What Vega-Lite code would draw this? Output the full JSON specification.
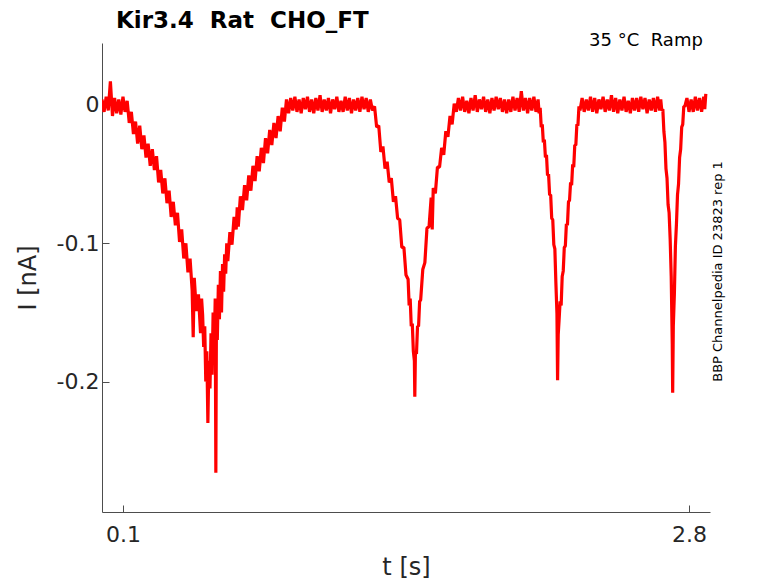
{
  "$schema": "https://vega.github.io/schema/vega-lite/v6.json",
  "width": 608,
  "height": 469,
  "autosize": "none",
  "padding": {"left": 102, "top": 43, "right": 68, "bottom": 71},
  "background": "white",
  "config": {"view": {"stroke": null}, "font": "DejaVu Sans"},
  "title": {
    "text": "Kir3.4 \u00a0Rat \u00a0CHO_FT",
    "anchor": "start",
    "frame": "group",
    "dx": 14,
    "fontSize": 23,
    "fontWeight": "bold",
    "color": "#000000",
    "baseline": "alphabetic",
    "offset": -19
  },
  "data": {"values": [
    {"t":0.00,"I":0.004},{"t":0.01,"I":-0.005},{"t":0.02,"I":0.006},{"t":0.03,"I":-0.004},{"t":0.04,"I":0.017},
    {"t":0.05,"I":-0.008},{"t":0.06,"I":0.005},{"t":0.07,"I":-0.006},{"t":0.08,"I":0.004},{"t":0.09,"I":-0.007},
    {"t":0.10,"I":0.006},{"t":0.11,"I":-0.005},{"t":0.12,"I":0.003},{"t":0.13,"I":-0.013},{"t":0.14,"I":-0.005},
    {"t":0.15,"I":-0.021},{"t":0.16,"I":-0.012},{"t":0.17,"I":-0.028},{"t":0.18,"I":-0.015},{"t":0.19,"I":-0.032},
    {"t":0.20,"I":-0.022},{"t":0.21,"I":-0.038},{"t":0.22,"I":-0.028},{"t":0.23,"I":-0.044},{"t":0.24,"I":-0.032},
    {"t":0.25,"I":-0.047},{"t":0.26,"I":-0.037},{"t":0.27,"I":-0.056},{"t":0.28,"I":-0.047},{"t":0.29,"I":-0.064},
    {"t":0.30,"I":-0.053},{"t":0.31,"I":-0.071},{"t":0.32,"I":-0.062},{"t":0.33,"I":-0.081},{"t":0.34,"I":-0.070},
    {"t":0.35,"I":-0.087},{"t":0.36,"I":-0.078},{"t":0.37,"I":-0.099},{"t":0.38,"I":-0.090},{"t":0.39,"I":-0.111},
    {"t":0.40,"I":-0.100},{"t":0.41,"I":-0.121},{"t":0.42,"I":-0.111},{"t":0.43,"I":-0.134},{"t":0.435,"I":-0.168},
    {"t":0.44,"I":-0.125},{"t":0.45,"I":-0.149},{"t":0.46,"I":-0.137},{"t":0.47,"I":-0.165},{"t":0.475,"I":-0.140},
    {"t":0.48,"I":-0.152},{"t":0.485,"I":-0.175},{"t":0.49,"I":-0.160},{"t":0.495,"I":-0.200},{"t":0.50,"I":-0.178},
    {"t":0.505,"I":-0.230},{"t":0.51,"I":-0.185},{"t":0.515,"I":-0.205},{"t":0.52,"I":-0.165},{"t":0.525,"I":-0.195},
    {"t":0.53,"I":-0.150},{"t":0.535,"I":-0.180},{"t":0.54,"I":-0.140},{"t":0.543,"I":-0.266},{"t":0.546,"I":-0.145},
    {"t":0.55,"I":-0.170},{"t":0.555,"I":-0.130},{"t":0.56,"I":-0.155},{"t":0.565,"I":-0.120},{"t":0.57,"I":-0.150},
    {"t":0.575,"I":-0.115},{"t":0.58,"I":-0.135},{"t":0.585,"I":-0.108},{"t":0.59,"I":-0.122},{"t":0.595,"I":-0.100},
    {"t":0.60,"I":-0.113},{"t":0.61,"I":-0.092},{"t":0.62,"I":-0.101},{"t":0.63,"I":-0.081},{"t":0.64,"I":-0.090},
    {"t":0.645,"I":-0.074},{"t":0.65,"I":-0.088},{"t":0.66,"I":-0.066},{"t":0.67,"I":-0.076},{"t":0.68,"I":-0.058},
    {"t":0.69,"I":-0.069},{"t":0.70,"I":-0.051},{"t":0.71,"I":-0.062},{"t":0.72,"I":-0.044},{"t":0.73,"I":-0.055},
    {"t":0.74,"I":-0.037},{"t":0.75,"I":-0.048},{"t":0.76,"I":-0.031},{"t":0.77,"I":-0.042},{"t":0.78,"I":-0.024},
    {"t":0.79,"I":-0.035},{"t":0.80,"I":-0.018},{"t":0.81,"I":-0.029},{"t":0.82,"I":-0.013},{"t":0.83,"I":-0.024},
    {"t":0.84,"I":-0.008},{"t":0.85,"I":-0.019},{"t":0.86,"I":-0.002},{"t":0.87,"I":-0.012},{"t":0.88,"I":0.004},
    {"t":0.89,"I":-0.006},{"t":0.90,"I":0.005},{"t":0.91,"I":-0.004},{"t":0.92,"I":0.006},{"t":0.93,"I":-0.005},
    {"t":0.94,"I":0.004},{"t":0.95,"I":-0.006},{"t":0.96,"I":0.005},{"t":0.97,"I":-0.003},{"t":0.98,"I":0.006},
    {"t":0.99,"I":-0.005},{"t":1.00,"I":0.004},{"t":1.01,"I":-0.006},{"t":1.02,"I":0.005},{"t":1.03,"I":-0.004},
    {"t":1.04,"I":0.007},{"t":1.05,"I":-0.005},{"t":1.06,"I":0.004},{"t":1.07,"I":-0.004},{"t":1.08,"I":0.005},
    {"t":1.09,"I":-0.006},{"t":1.10,"I":0.004},{"t":1.11,"I":-0.003},{"t":1.12,"I":0.006},{"t":1.13,"I":-0.005},
    {"t":1.14,"I":0.003},{"t":1.15,"I":-0.005},{"t":1.16,"I":0.006},{"t":1.17,"I":-0.004},{"t":1.18,"I":0.005},
    {"t":1.19,"I":-0.006},{"t":1.20,"I":0.004},{"t":1.21,"I":-0.004},{"t":1.22,"I":0.005},{"t":1.23,"I":-0.005},
    {"t":1.24,"I":0.006},{"t":1.25,"I":-0.003},{"t":1.26,"I":0.005},{"t":1.27,"I":-0.005},{"t":1.28,"I":0.004},
    {"t":1.29,"I":-0.004},{"t":1.30,"I":-0.001},{"t":1.31,"I":-0.016},{"t":1.32,"I":-0.015},{"t":1.33,"I":-0.034},
    {"t":1.34,"I":-0.030},{"t":1.35,"I":-0.046},{"t":1.36,"I":-0.041},{"t":1.37,"I":-0.056},{"t":1.38,"I":-0.053},
    {"t":1.39,"I":-0.070},{"t":1.40,"I":-0.066},{"t":1.41,"I":-0.082},{"t":1.42,"I":-0.083},{"t":1.43,"I":-0.103},
    {"t":1.44,"I":-0.103},{"t":1.45,"I":-0.123},{"t":1.46,"I":-0.126},{"t":1.465,"I":-0.145},{"t":1.47,"I":-0.140},
    {"t":1.475,"I":-0.160},{"t":1.48,"I":-0.158},{"t":1.485,"I":-0.178},{"t":1.49,"I":-0.185},{"t":1.492,"I":-0.211},
    {"t":1.495,"I":-0.178},{"t":1.50,"I":-0.180},{"t":1.505,"I":-0.160},{"t":1.51,"I":-0.160},{"t":1.515,"I":-0.142},
    {"t":1.52,"I":-0.141},{"t":1.53,"I":-0.119},{"t":1.54,"I":-0.114},{"t":1.55,"I":-0.089},{"t":1.56,"I":-0.088},
    {"t":1.57,"I":-0.067},{"t":1.575,"I":-0.090},{"t":1.58,"I":-0.060},{"t":1.59,"I":-0.064},{"t":1.60,"I":-0.045},
    {"t":1.61,"I":-0.045},{"t":1.62,"I":-0.031},{"t":1.63,"I":-0.036},{"t":1.64,"I":-0.019},{"t":1.65,"I":-0.023},
    {"t":1.66,"I":-0.008},{"t":1.67,"I":-0.014},{"t":1.68,"I":0.001},{"t":1.69,"I":-0.005},{"t":1.70,"I":0.005},
    {"t":1.71,"I":-0.004},{"t":1.72,"I":0.006},{"t":1.73,"I":-0.005},{"t":1.74,"I":0.003},{"t":1.75,"I":-0.006},
    {"t":1.76,"I":0.005},{"t":1.77,"I":-0.004},{"t":1.78,"I":0.007},{"t":1.79,"I":-0.005},{"t":1.80,"I":0.004},
    {"t":1.81,"I":-0.003},{"t":1.82,"I":0.006},{"t":1.83,"I":-0.005},{"t":1.84,"I":0.004},{"t":1.85,"I":-0.006},
    {"t":1.86,"I":0.005},{"t":1.87,"I":-0.004},{"t":1.88,"I":0.006},{"t":1.89,"I":-0.003},{"t":1.90,"I":0.005},
    {"t":1.91,"I":-0.005},{"t":1.92,"I":0.004},{"t":1.93,"I":-0.006},{"t":1.94,"I":0.004},{"t":1.95,"I":-0.005},
    {"t":1.96,"I":0.006},{"t":1.97,"I":-0.004},{"t":1.98,"I":0.005},{"t":1.99,"I":-0.005},{"t":2.00,"I":0.010},
    {"t":2.01,"I":-0.004},{"t":2.02,"I":0.005},{"t":2.03,"I":-0.006},{"t":2.04,"I":0.005},{"t":2.05,"I":-0.004},
    {"t":2.06,"I":0.006},{"t":2.07,"I":-0.005},{"t":2.08,"I":0.004},{"t":2.085,"I":-0.006},{"t":2.09,"I":-0.002},
    {"t":2.095,"I":-0.016},{"t":2.10,"I":-0.014},{"t":2.105,"I":-0.027},{"t":2.11,"I":-0.025},{"t":2.115,"I":-0.038},
    {"t":2.12,"I":-0.036},{"t":2.125,"I":-0.051},{"t":2.13,"I":-0.050},{"t":2.135,"I":-0.065},{"t":2.14,"I":-0.065},
    {"t":2.145,"I":-0.082},{"t":2.15,"I":-0.083},{"t":2.155,"I":-0.101},{"t":2.16,"I":-0.104},{"t":2.165,"I":-0.129},
    {"t":2.17,"I":-0.151},{"t":2.173,"I":-0.199},{"t":2.176,"I":-0.166},{"t":2.18,"I":-0.156},{"t":2.185,"I":-0.142},
    {"t":2.19,"I":-0.145},{"t":2.195,"I":-0.124},{"t":2.20,"I":-0.120},{"t":2.205,"I":-0.103},{"t":2.21,"I":-0.102},
    {"t":2.215,"I":-0.086},{"t":2.22,"I":-0.087},{"t":2.225,"I":-0.070},{"t":2.23,"I":-0.069},{"t":2.235,"I":-0.056},
    {"t":2.24,"I":-0.058},{"t":2.245,"I":-0.043},{"t":2.25,"I":-0.045},{"t":2.255,"I":-0.029},{"t":2.26,"I":-0.029},
    {"t":2.265,"I":-0.014},{"t":2.27,"I":-0.015},{"t":2.275,"I":-0.001},{"t":2.28,"I":-0.004},{"t":2.29,"I":0.005},
    {"t":2.30,"I":-0.005},{"t":2.31,"I":0.004},{"t":2.32,"I":-0.004},{"t":2.33,"I":0.006},{"t":2.34,"I":-0.005},
    {"t":2.35,"I":0.005},{"t":2.36,"I":-0.006},{"t":2.37,"I":0.004},{"t":2.38,"I":-0.003},{"t":2.39,"I":0.006},
    {"t":2.40,"I":-0.005},{"t":2.41,"I":0.004},{"t":2.42,"I":-0.004},{"t":2.43,"I":0.007},{"t":2.44,"I":-0.005},
    {"t":2.45,"I":0.005},{"t":2.46,"I":-0.006},{"t":2.47,"I":0.004},{"t":2.48,"I":-0.004},{"t":2.49,"I":0.006},
    {"t":2.50,"I":-0.005},{"t":2.51,"I":0.003},{"t":2.52,"I":-0.006},{"t":2.53,"I":0.005},{"t":2.54,"I":-0.004},
    {"t":2.55,"I":0.005},{"t":2.56,"I":-0.005},{"t":2.57,"I":0.006},{"t":2.58,"I":-0.003},{"t":2.59,"I":0.005},
    {"t":2.60,"I":-0.006},{"t":2.61,"I":0.004},{"t":2.62,"I":-0.004},{"t":2.63,"I":0.005},{"t":2.64,"I":-0.005},
    {"t":2.65,"I":0.006},{"t":2.66,"I":-0.004},{"t":2.665,"I":0.004},{"t":2.67,"I":-0.004},{"t":2.675,"I":-0.003},
    {"t":2.68,"I":-0.019},{"t":2.685,"I":-0.027},{"t":2.69,"I":-0.046},{"t":2.695,"I":-0.053},{"t":2.70,"I":-0.072},
    {"t":2.705,"I":-0.078},{"t":2.71,"I":-0.097},{"t":2.715,"I":-0.124},{"t":2.72,"I":-0.173},{"t":2.722,"I":-0.208},
    {"t":2.725,"I":-0.160},{"t":2.73,"I":-0.137},{"t":2.735,"I":-0.102},{"t":2.74,"I":-0.086},{"t":2.745,"I":-0.065},
    {"t":2.75,"I":-0.057},{"t":2.755,"I":-0.038},{"t":2.76,"I":-0.032},{"t":2.765,"I":-0.016},{"t":2.77,"I":-0.014},
    {"t":2.775,"I":-0.001},{"t":2.78,"I":-0.001},{"t":2.79,"I":0.005},{"t":2.80,"I":-0.005},{"t":2.81,"I":0.004},
    {"t":2.82,"I":-0.005},{"t":2.83,"I":0.006},{"t":2.84,"I":-0.004},{"t":2.85,"I":0.005},{"t":2.86,"I":-0.005},
    {"t":2.87,"I":0.006},{"t":2.875,"I":-0.003},{"t":2.88,"I":0.008}
  ]},
  "layer": [
    {
      "mark": {"type": "line", "color": "#ff0000", "strokeWidth": 3.2, "strokeJoin": "bevel", "clip": true},
      "encoding": {
        "x": {
          "field": "t", "type": "quantitative",
          "scale": {"domain": [0, 2.9], "nice": false, "zero": false},
          "axis": {
            "title": "t [s]", "values": [0.1, 2.8], "labelExpr": "toString(datum.value)",
            "grid": false, "tickSize": -7, "labelPadding": 19,
            "domainColor": "#4d4d4d", "tickColor": "#4d4d4d", "labelColor": "#262626",
            "labelFontSize": 22, "titleFontSize": 24, "titleFontWeight": "normal",
            "titleColor": "#262626", "titlePadding": 10
          }
        },
        "y": {
          "field": "I", "type": "quantitative",
          "scale": {"domain": [-0.2943, 0.0448], "nice": false, "zero": false},
          "axis": {
            "title": "I [nA]", "values": [-0.2, -0.1, 0], "labelExpr": "toString(datum.value)",
            "grid": false, "tickSize": -7, "labelPadding": 10,
            "domainColor": "#4d4d4d", "tickColor": "#4d4d4d", "labelColor": "#262626",
            "labelFontSize": 22, "titleFontSize": 24, "titleFontWeight": "normal",
            "titleColor": "#262626", "titlePadding": 16
          }
        }
      }
    },
    {
      "data": {"values": [{}]},
      "mark": {"type": "text", "text": "35 °C \u00a0Ramp", "align": "right", "baseline": "alphabetic", "fontSize": 18, "color": "#000000"},
      "encoding": {
        "x": {"datum": 2.866, "type": "quantitative"},
        "y": {"datum": 0.0427, "type": "quantitative"}
      }
    },
    {
      "data": {"values": [{}]},
      "mark": {"type": "text", "text": "BBP Channelpedia ID 23823 rep 1", "angle": 270, "align": "center", "baseline": "alphabetic", "fontSize": 13, "color": "#000000"},
      "encoding": {
        "x": {"datum": 2.957, "type": "quantitative"},
        "y": {"datum": -0.1204, "type": "quantitative"}
      }
    }
  ]
}
